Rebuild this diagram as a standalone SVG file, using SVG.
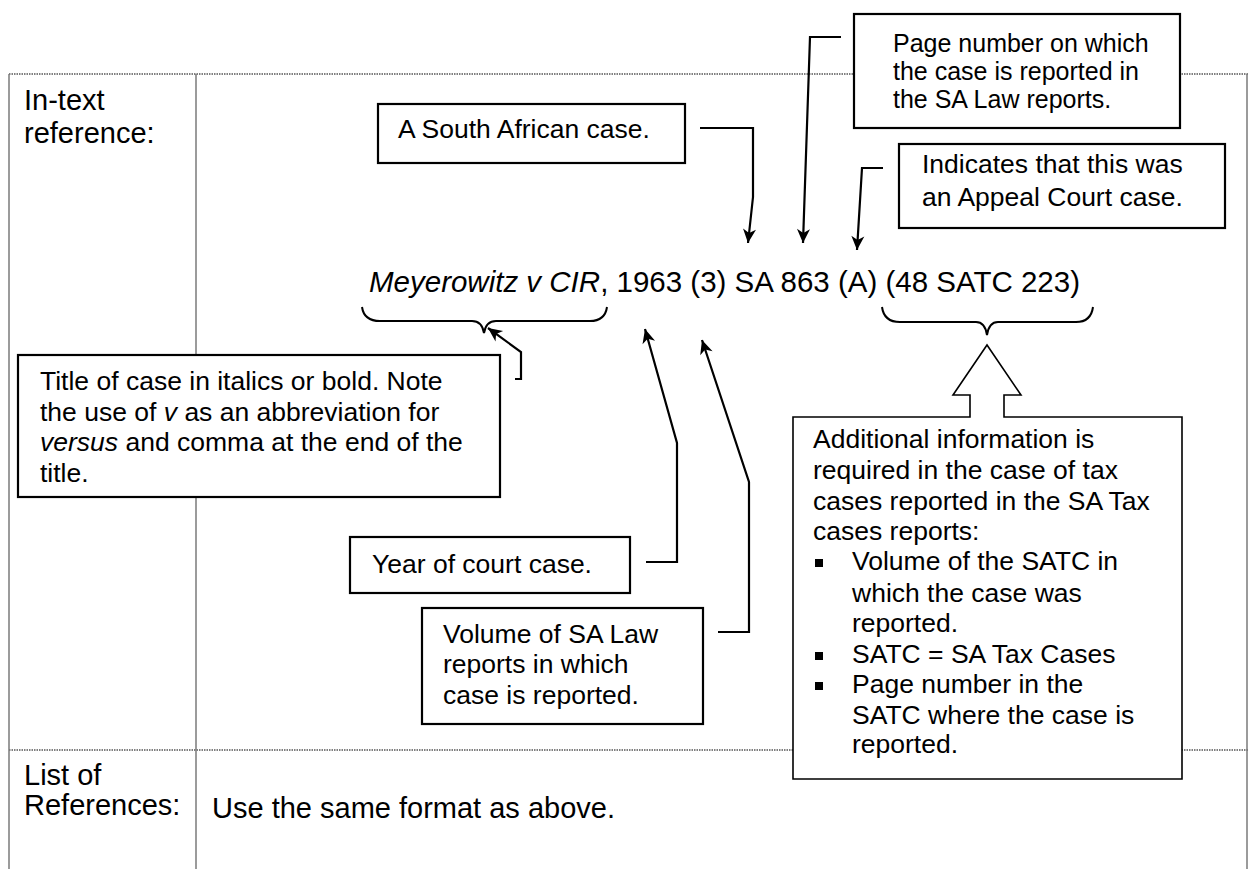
<svg xmlns="http://www.w3.org/2000/svg" width="1249" height="869" viewBox="0 0 1249 869">
<style>
text{font-family:"Liberation Sans",Arial,sans-serif;fill:#000}
.tbl{font-size:29px}
.cit{font-size:29.5px}
.box{font-size:26.5px}
.pg{font-size:25px}
.it{font-style:italic}
.grid{stroke:#7a7a7a;stroke-width:1.5;fill:none}
.dot{stroke:#555;stroke-width:1.5;stroke-dasharray:1.5 1;fill:none}
.nb{fill:#fff;stroke:#000;stroke-width:2.2}
.thin{fill:#fff;stroke:#000;stroke-width:1.6}
.con{fill:none;stroke:#000;stroke-width:2.2;marker-end:url(#ah)}
.brace{fill:none;stroke:#000;stroke-width:2}
</style>
<defs>
<marker id="ah" markerUnits="userSpaceOnUse" markerWidth="16" markerHeight="16" viewBox="0 0 16 16" refX="15" refY="8" orient="auto">
<path d="M1,1.5 L15,8 L1,14.5 L5,8 z" fill="#000"/>
</marker>
</defs>
<rect width="1249" height="869" fill="#fff"/>
<g id="table">
<line class="dot" x1="9" y1="74" x2="1248" y2="74"/>
<line class="dot" x1="9" y1="750" x2="1248" y2="750"/>
<line class="grid" x1="9" y1="74" x2="9" y2="869"/>
<line class="grid" x1="196" y1="74" x2="196" y2="869"/>
<line class="grid" x1="1247" y1="74" x2="1247" y2="869"/>
<text class="tbl" x="24" y="110">In-text</text>
<text class="tbl" x="24" y="143">reference:</text>
<text class="tbl" x="24" y="785">List of</text>
<text class="tbl" x="24" y="815">References:</text>
<text class="tbl" x="212" y="818">Use the same format as above.</text>
</g>
<g id="citation">
<text class="cit" x="369" y="292"><tspan class="it">Meyerowitz v CIR</tspan>, 1963 (3) SA 863 (A) (48 SATC 223)</text>
<path class="brace" d="M362,307 Q364,321 380,321 L472,321 Q482,321 484,333 Q486,321 496,321 L590,321 Q605,321 607,307"/>
<path class="brace" d="M882,307 Q884,322 900,322 L976,322 Q985,322 987,335 Q989,322 998,322 L1076,322 Q1091,322 1093,307"/>
</g>
<g id="connectors">
<path class="con" d="M700,128 L753,128 L753,197 L748,243"/>
<path class="con" d="M841,37 L810,37 L803,243"/>
<path class="con" d="M883,168 L862,168 L857,250"/>
<path class="con" d="M515,379 L521,379 L521,352 L488,328"/>
<path class="con" d="M646,562 L677,562 L677,443 L645,329"/>
<path class="con" d="M718,632 L749,632 L749,482 L702,340"/>
</g>
<g id="node-south-african">
<rect class="nb" x="378" y="104" width="307" height="59"/>
<text class="box" x="398" y="138">A South African case.</text>
</g>
<g id="node-page-number">
<rect class="nb" x="854" y="14" width="326" height="114"/>
<text class="pg" x="893" y="52">Page number on which</text>
<text class="pg" x="893" y="80">the case is reported in</text>
<text class="pg" x="893" y="108">the SA Law reports.</text>
</g>
<g id="node-appeal">
<rect class="nb" x="899" y="144" width="326" height="84"/>
<text class="box" x="922" y="173">Indicates that this was</text>
<text class="box" x="922" y="206">an Appeal Court case.</text>
</g>
<g id="node-title">
<rect class="nb" x="18" y="355" width="482" height="142"/>
<text class="box" x="40" y="390">Title of case in italics or bold. Note</text>
<text class="box" x="40" y="421">the use of <tspan class="it">v</tspan> as an abbreviation for</text>
<text class="box" x="40" y="451"><tspan class="it">versus</tspan> and comma at the end of the</text>
<text class="box" x="40" y="482">title.</text>
</g>
<g id="node-year">
<rect class="nb" x="350" y="537" width="280" height="56"/>
<text class="box" x="372" y="573">Year of court case.</text>
</g>
<g id="node-volume">
<rect class="nb" x="422" y="608" width="281" height="116"/>
<text class="box" x="443" y="643">Volume of SA Law</text>
<text class="box" x="443" y="673">reports in which</text>
<text class="box" x="443" y="704">case is reported.</text>
</g>
<g id="node-additional">
<path class="thin" d="M793,417 L970,417 L970,395 L953,395 L987,345 L1021,395 L1004,395 L1004,417 L1182,417 L1182,779 L793,779 Z"/>
<text class="box" x="813" y="448">Additional information is</text>
<text class="box" x="813" y="479">required in the case of tax</text>
<text class="box" x="813" y="510">cases reported in the SA Tax</text>
<text class="box" x="813" y="540">cases reports:</text>
<rect x="815" y="559" width="8" height="8" fill="#000"/>
<text class="box" x="852" y="570">Volume of the SATC in</text>
<text class="box" x="852" y="602">which the case was</text>
<text class="box" x="852" y="632">reported.</text>
<rect x="815" y="652" width="8" height="8" fill="#000"/>
<text class="box" x="852" y="663">SATC = SA Tax Cases</text>
<rect x="815" y="682" width="8" height="8" fill="#000"/>
<text class="box" x="852" y="693">Page number in the</text>
<text class="box" x="852" y="724">SATC where the case is</text>
<text class="box" x="852" y="753">reported.</text>
</g>
</svg>
